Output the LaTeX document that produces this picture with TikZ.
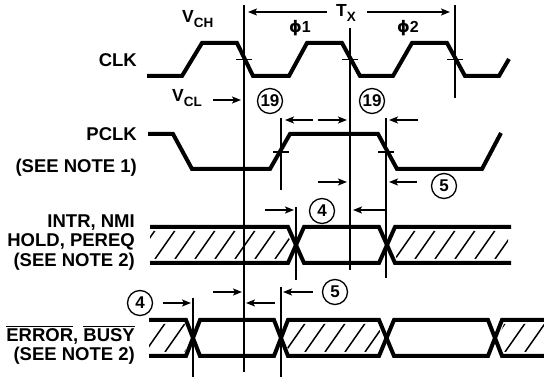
\documentclass[tikz,border=0pt]{standalone}
\usepackage{fontspec}
\setmainfont{Liberation Sans}
\newfontfamily\phifont{DejaVu Sans}
\usetikzlibrary{arrows.meta}
\newcommand\ovl[1]{\leavevmode\vbox{\hrule height 1.4pt\kern1.6pt\hbox{#1}}}
\newcommand\hatchit[3]{%
  \begin{scope}\clip #1;
    \foreach \k in {0,...,24}{\draw[hatchln] ({#3+20*\k},{#2}) -- ++(-55:60);}
  \end{scope}}
\begin{document}
\begin{tikzpicture}[x=1pt,y=-1pt,
  wave/.style={line width=4pt,line join=miter},
  thin/.style={line width=1.2pt},
  dim/.style={line width=1.3pt,-{Stealth[length=9pt,width=7pt,inset=2pt]}},
  lbl/.style={anchor=base east,inner sep=0pt,font=\fontsize{18.5}{18.5}\selectfont\bfseries},
  sym/.style={anchor=base west,inner sep=0pt,font=\fontsize{17.5}{17.5}\selectfont\bfseries},
  num/.style={circle,draw,line width=1.3pt,minimum size=25pt,inner sep=0pt,font=\fontsize{17}{17}\selectfont\bfseries},
  hatchln/.style={line width=1.5pt},
  tick/.style={line width=1.2pt}]
\useasboundingbox (0,0) rectangle (544,379);

% labels
\node[lbl] (clk) at (137,67) {CLK};
\node[lbl] (pclk) at (137,141) {PCLK};
\node[lbl] (n1) at (137,173) {(SEE NOTE 1)};
\node[lbl] (intr) at (135,228) {INTR, NMI};
\node[lbl] (hold) at (135,247) {HOLD, PEREQ};
\node[lbl] (n2a) at (135,267) {(SEE NOTE 2)};
\node[lbl] (err) at (135,342) {\ovl{ERROR}, \ovl{BUSY}};
\node[lbl] (n2b) at (135,361) {(SEE NOTE 2)};

\node[sym] (vch) at (182,23) {V\raisebox{-5pt}{\fontsize{13.5}{13.5}\selectfont CH}};
\node[sym] (vcl) at (172,102) {V\raisebox{-5pt}{\fontsize{13.5}{13.5}\selectfont CL}};
\node[sym] (tx) at (336,17) {T\raisebox{-5pt}{\fontsize{13.5}{13.5}\selectfont X}};
\node[sym,font=\fontsize{16}{16}\selectfont\bfseries] (ph1) at (289,33) {{\phifont ϕ}1};
\node[sym,font=\fontsize{16}{16}\selectfont\bfseries] (ph2) at (397,33) {{\phifont ϕ}2};

% vertical reference lines
\draw[thin] (244,5) -- (244,372);
\draw[thin] (350,28) -- (350,270);
\draw[thin] (455,5) -- (455,98);
\draw[thin] (281,118) -- (281,190);
\draw[thin] (386,118) -- (386,278);
\draw[thin] (296,207) -- (296,280);
\draw[thin] (193,298) -- (193,377);
\draw[thin] (281,287) -- (281,377);

% CLK
\draw[wave] (147,76) -- (182,76) -- (202,43) -- (237,43) -- (253,76) -- (289,76) -- (307,43) -- (342,43)
  -- (360,76) -- (393,76) -- (412,43) -- (447,43) -- (465,76) -- (499,76) -- (509,59);
\draw[tick] (236,59.5) -- (252,59.5);
\draw[tick] (342,59.5) -- (358,59.5);
\draw[tick] (447,59.5) -- (463,59.5);

% PCLK
\draw[wave] (148,134) -- (173,134) -- (192,169) -- (270,169) -- (290,134) -- (378,134) -- (397,169) -- (482,169) -- (501,133);
\draw[tick] (273,152) -- (289,152);
\draw[tick] (378,152) -- (394,152);

% INTR, NMI, HOLD, PEREQ
\hatchit{(150,231) -- (286,231) -- (292,245) -- (286,259) -- (150,259) -- cycle}{259}{135}
\hatchit{(397,231) -- (508,231) -- (508,259) -- (397,259) -- (391,245) -- cycle}{259}{135}
\draw[wave] (150,227) -- (288,227) -- (304,263) -- (379,263) -- (395,227) -- (511,227);
\draw[wave] (150,263) -- (288,263) -- (304,227) -- (379,227) -- (395,263) -- (511,263);

% ERROR, BUSY
\hatchit{(149,324) -- (185,324) -- (190,338) -- (185,352) -- (149,352) -- cycle}{352}{125}
\hatchit{(289,324) -- (377,324) -- (383,338) -- (377,352) -- (289,352) -- (284,338) -- cycle}{352}{125}
\hatchit{(504,324) -- (544,324) -- (544,352) -- (504,352) -- (498,338) -- cycle}{352}{125}
\draw[wave] (149,320) -- (186,320) -- (200,356) -- (274,356) -- (288,320) -- (379,320) -- (394,356) -- (488,356) -- (502,320) -- (544,320);
\draw[wave] (149,356) -- (186,356) -- (200,320) -- (274,320) -- (288,356) -- (379,356) -- (394,320) -- (488,320) -- (502,356) -- (544,356);

% dimension arrows
\draw[dim] (327,12) -- (248,12);
\draw[dim] (367,12) -- (450,12);
\draw[dim] (213,100) -- (241,100);
\draw[dim] (313,120) -- (285,120);
\draw[dim] (318,120) -- (347,120);
\draw[dim] (418,120) -- (389,120);
\draw[dim] (318,182) -- (347,182);
\draw[dim] (417,182) -- (389,182);
\draw[dim] (265,210) -- (294,210);
\draw[dim] (385,210) -- (353,210);
\draw[dim] (163,303) -- (191,303);
\draw[dim] (213,292) -- (242,292);
\draw[dim] (275,303) -- (246,303);
\draw[dim] (313,292) -- (283,292);

% circled numbers
\node[num] (c19a) at (270,101) {19};
\node[num] (c19b) at (372,101) {19};
\node[num] (c5a) at (444,186) {5};
\node[num] (c4a) at (322,211) {4};
\node[num] (c4b) at (140,303) {4};
\node[num] (c5b) at (335,292) {5};
\end{tikzpicture}
\end{document}
